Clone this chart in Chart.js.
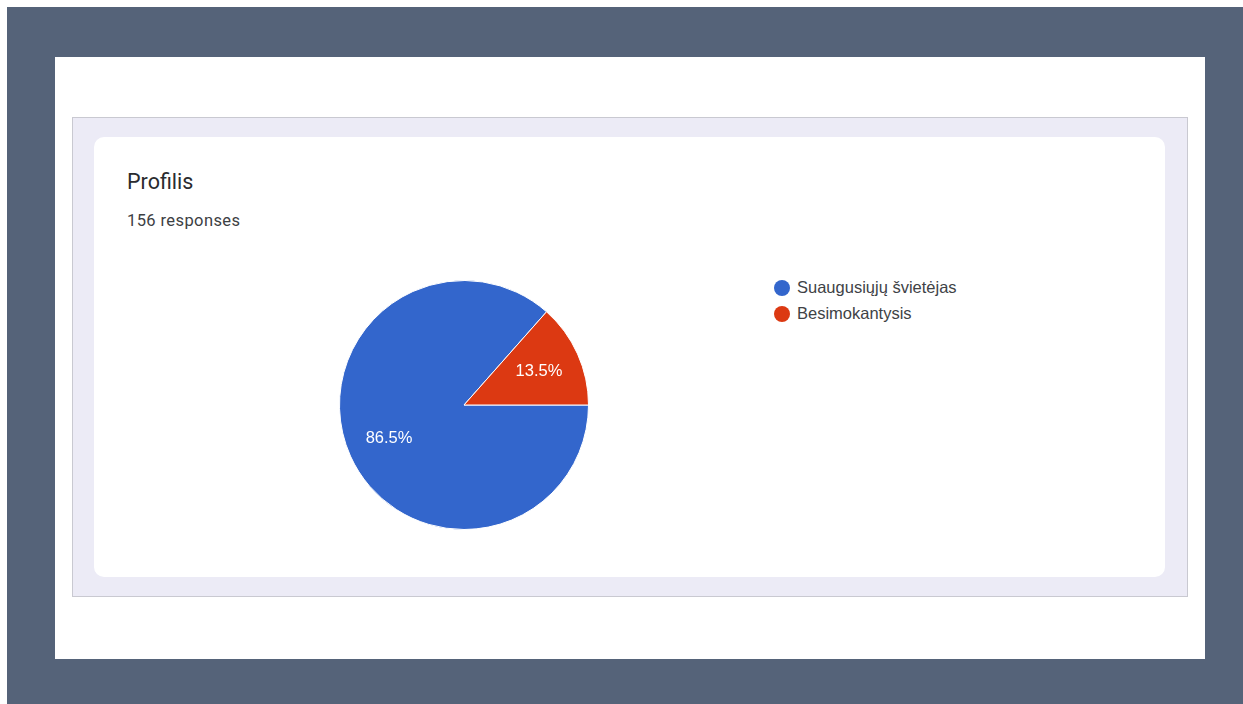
<!DOCTYPE html>
<html>
<head>
<meta charset="utf-8">
<title>Profilis</title>
<script src="https://cdn.jsdelivr.net/npm/chart.js@4/dist/chart.umd.min.js"></script>
<style>
  html, body { margin: 0; padding: 0; background: #fff; }
  body { width: 1243px; height: 704px; position: relative; overflow: hidden; }
  .frame { position: absolute; left: 7px; top: 7px; width: 1236px; height: 697px; background: #556379; }
  .sheet { position: absolute; left: 55px; top: 57px; width: 1150px; height: 602px; background: #fff; }
  .box {
    position: absolute; left: 72px; top: 117px; width: 1114px; height: 478px;
    background: #ecebf6; border: 1px solid #c9c9d1;
  }
  .card { position: absolute; left: 94px; top: 137px; width: 1071px; height: 440px; background: #fff; border-radius: 10px; }
  .title { position: absolute; left: 127px; top: 169px; font: 21.5px Roboto, sans-serif; color: #2a2b2e; margin: 0; line-height: 26px; }
  .sub { position: absolute; left: 127px; top: 210px; font: 16.5px Roboto, sans-serif; letter-spacing: 0.4px; color: #3c4043; line-height: 22px; }
  .pie { position: absolute; left: 334px; top: 275px; width: 260px; height: 260px; }
  .legend { position: absolute; left: 774px; top: 277px; font: 16.5px Arial, "Liberation Sans", sans-serif; color: #404246; }
  .legend div { height: 26px; line-height: 21px; white-space: nowrap; }
  .legend span { display: inline-block; width: 16px; height: 16px; border-radius: 50%; vertical-align: -3px; margin-right: 7px; }
</style>
</head>
<body>
<div class="frame"></div>
<div class="sheet"></div>
<div class="box"></div>
<div class="card"></div>
<div class="title">Profilis</div>
<div class="sub">156 responses</div>
<div class="pie"><canvas id="pieChart"></canvas></div>
<div class="legend" id="legend"></div>

<script>
// 156 responses in total
const categories = ["Suaugusiųjų švietėjas", "Besimokantysis"];
const responses = [135, 21];
const sliceLabels = ["86.5%", "13.5%"];
const colors = ["#3366cc", "#dc3912"];

// legend built from the same arrays
const legendEl = document.getElementById("legend");
categories.forEach((name, i) => {
  const row = document.createElement("div");
  const dot = document.createElement("span");
  dot.style.background = colors[i];
  row.appendChild(dot);
  row.appendChild(document.createTextNode(name));
  legendEl.appendChild(row);
});

const sliceText = {
  id: "sliceText",
  afterDatasetsDraw(chart) {
    const ctx = chart.ctx;
    const arcs = chart.getDatasetMeta(0).data;
    ctx.save();
    ctx.fillStyle = "#fff";
    ctx.font = '16.5px Arial, "Liberation Sans", sans-serif';
    ctx.textAlign = "center";
    ctx.textBaseline = "middle";
    arcs.forEach((arc, i) => {
      const p = arc.getProps(["x", "y", "startAngle", "endAngle", "outerRadius"], true);
      const mid = (p.startAngle + p.endAngle) / 2;
      const r = p.outerRadius * 0.66;
      ctx.fillText(sliceLabels[i], p.x + Math.cos(mid) * r, p.y + Math.sin(mid) * r);
    });
    ctx.restore();
  },
};

new Chart(document.getElementById("pieChart").getContext("2d"), {
  type: "pie",
  data: {
    labels: categories,
    datasets: [
      {
        data: responses,
        backgroundColor: colors,
        borderColor: "#fff",
        borderWidth: 1,
        hoverOffset: 0,
      },
    ],
  },
  options: {
    responsive: true,
    maintainAspectRatio: false,
    animation: false,
    rotation: 90,
    layout: { padding: 5 },
    plugins: {
      legend: { display: false },
      tooltip: { enabled: false },
    },
  },
  plugins: [sliceText],
});
</script>
</body>
</html>
